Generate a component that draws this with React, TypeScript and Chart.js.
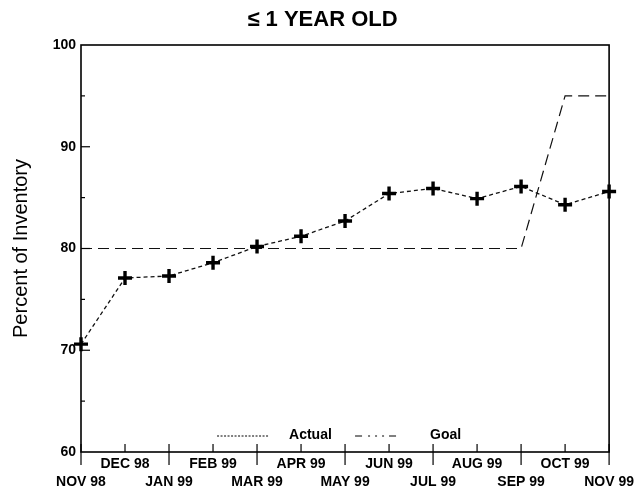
import React, { useEffect, useRef } from "react";
import { Chart, registerables } from "chart.js";

Chart.register(...registerables);

const months = ["NOV 98", "DEC 98", "JAN 99", "FEB 99", "MAR 99", "APR 99", "MAY 99", "JUN 99", "JUL 99", "AUG 99", "SEP 99", "OCT 99", "NOV 99"];
const actual = [70.6, 77.1, 77.3, 78.6, 80.2, 81.2, 82.7, 85.4, 85.9, 84.9, 86.1, 84.3, 85.6];
const goal = [80, 80, 80, 80, 80, 80, 80, 80, 80, 80, 80, 95, 95];
const yMajorTicks = [70, 80, 90];
const yMinorTicks = [65, 75, 85, 95];
const titleText = "≤ 1 YEAR OLD";
const yTitleText = "Percent of Inventory";

const FONT = "'Liberation Sans', Arial, Helvetica, sans-serif";

const framePlugin = {
  id: "frameAndTicks",
  afterDraw(chart: any) {
    const { ctx, chartArea } = chart;
    const { left, right, top, bottom } = chartArea;
    const x = chart.scales.x;
    const y = chart.scales.y;
    ctx.save();

    // title
    ctx.fillStyle = "#000";
    ctx.font = `bold 22px ${FONT}`;
    ctx.textAlign = "center";
    ctx.textBaseline = "middle";
    ctx.fillText(titleText, chart.width / 2 + 4, 20);

    ctx.strokeStyle = "#000";
    ctx.lineWidth = 1.6;
    ctx.strokeRect(left, top, right - left, bottom - top);

    ctx.lineWidth = 1.2;
    yMajorTicks.forEach((v) => {
      const py = y.getPixelForValue(v);
      ctx.beginPath();
      ctx.moveTo(left, py);
      ctx.lineTo(left + 9, py);
      ctx.stroke();
    });
    yMinorTicks.forEach((v) => {
      const py = y.getPixelForValue(v);
      ctx.beginPath();
      ctx.moveTo(left, py);
      ctx.lineTo(left + 4, py);
      ctx.stroke();
    });

    months.forEach((_, i) => {
      const px = x.getPixelForValue(i);
      ctx.beginPath();
      ctx.moveTo(px, bottom - 8);
      ctx.lineTo(px, i % 2 === 0 ? bottom + 13 : bottom);
      ctx.stroke();
    });

    // legend inside plot area
    const ds = chart.data.datasets;
    const cx = (left + right) / 2;
    const ly = bottom - 17;
    ctx.font = `bold 14px ${FONT}`;
    ctx.fillStyle = "#000";
    ctx.textBaseline = "middle";
    ctx.textAlign = "left";

    ctx.lineWidth = 1;
    ctx.setLineDash([2, 1.5]);
    ctx.beginPath();
    ctx.moveTo(cx - 128, ly + 1);
    ctx.lineTo(cx - 76, ly + 1);
    ctx.stroke();
    ctx.fillText(ds[0].label, cx - 56, ly);

    ctx.setLineDash([7, 6, 2, 5, 2, 5, 2, 5]);
    ctx.beginPath();
    ctx.moveTo(cx + 10, ly + 1);
    ctx.lineTo(cx + 55, ly + 1);
    ctx.stroke();
    ctx.fillText(ds[1].label, cx + 85, ly);
    ctx.restore();
  },
};

export default function App() {
  const canvasRef = useRef<HTMLCanvasElement | null>(null);

  useEffect(() => {
    if (!canvasRef.current) return;
    const chart = new Chart(canvasRef.current, {
      type: "line",
      data: {
        labels: months,
        datasets: [
          {
            label: "Actual",
            data: actual,
            borderColor: "#111",
            borderWidth: 1.3,
            borderDash: [4, 3],
            pointStyle: "cross",
            pointRadius: 7,
            pointBorderWidth: 3.4,
            pointBorderColor: "#000",
            pointBackgroundColor: "#000",
            tension: 0,
            clip: false,
          },
          {
            label: "Goal",
            data: goal,
            borderColor: "#111",
            borderWidth: 1.2,
            borderDash: [11, 6],
            pointRadius: 0,
            tension: 0,
            clip: false,
          },
        ],
      },
      options: {
        animation: false,
        responsive: true,
        maintainAspectRatio: false,
        layout: { padding: { left: 0, right: 23, top: 45, bottom: 0 } },
        plugins: {
          legend: { display: false },
          tooltip: { enabled: false },
          title: { display: false },
        },
        scales: {
          x: {
            type: "category",
            offset: false,
            grid: { display: false, drawTicks: false },
            border: { display: false },
            ticks: {
              autoSkip: false,
              maxRotation: 0,
              minRotation: 0,
              padding: 3,
              color: "#000",
              font: { family: FONT, size: 14, weight: "bold", lineHeight: 1.3 },
              callback: (_v: any, i: number) => (i % 2 === 1 ? months[i] : ["", months[i]]),
            },
            afterFit: (scale: any) => {
              scale.height = 41;
            },
          },
          y: {
            min: 60,
            max: 100,
            grid: { display: false, drawTicks: false },
            border: { display: false },
            ticks: {
              stepSize: 10,
              padding: 5,
              color: "#000",
              font: { family: FONT, size: 14, weight: "bold" },
            },
            title: {
              display: true,
              text: yTitleText,
              color: "#000",
              font: { family: FONT, size: 20, weight: "normal" },
              padding: { top: 9, bottom: 0 },
            },
            afterFit: (scale: any) => {
              scale.width = 81;
            },
          },
        },
      },
      plugins: [framePlugin],
    });
    return () => chart.destroy();
  }, []);

  return (
    <div style={{ position: "fixed", left: 0, top: 0, width: 637, height: 493, background: "#fff" }}>
      <canvas ref={canvasRef} />
    </div>
  );
}
